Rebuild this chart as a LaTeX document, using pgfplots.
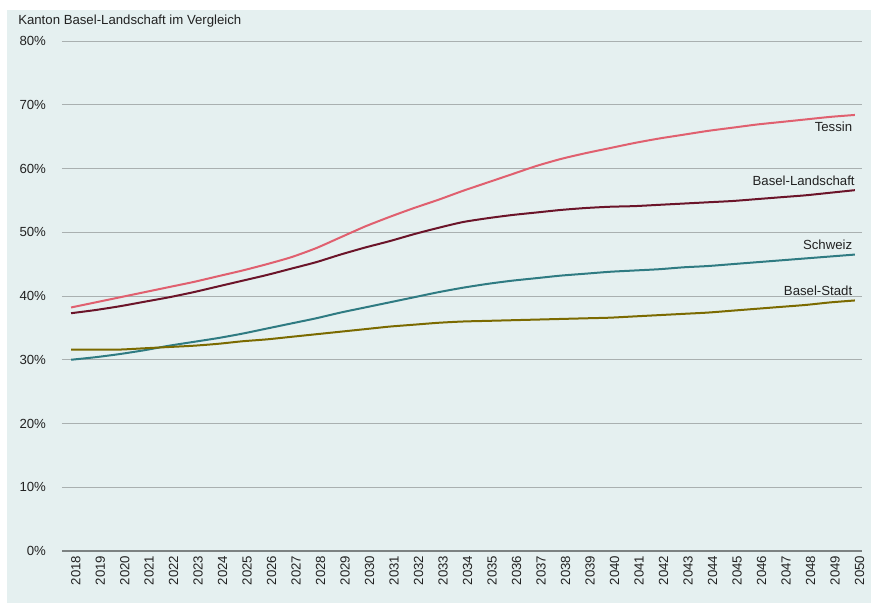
\documentclass[border=0pt]{standalone}
\usepackage{pgfplots}
\pgfplotsset{compat=1.18}
\usepackage{pgfplotstable}
\usepackage{fontspec}
\setmainfont{Liberation Sans}
\definecolor{bgpanel}{HTML}{E5F0F0}
\definecolor{gridgray}{HTML}{A9B0B0}
\definecolor{axisgray}{HTML}{7C8282}
\definecolor{txt}{HTML}{222222}
\definecolor{tessin}{HTML}{E0606F}
\definecolor{bl}{HTML}{6B1429}
\definecolor{ch}{HTML}{2F7B82}
\definecolor{bs}{HTML}{7B6A00}
\pgfplotstableread{
year tessin bl ch bs
2018 38.2 37.3 30.0 31.6
2019 39.0 37.8 30.4 31.6
2020 39.8 38.4 30.9 31.6
2021 40.6 39.1 31.5 31.8
2022 41.4 39.8 32.2 32.0
2023 42.2 40.6 32.8 32.2
2024 43.1 41.5 33.4 32.5
2025 44.0 42.4 34.1 32.9
2026 45.0 43.3 34.9 33.2
2027 46.1 44.3 35.7 33.6
2028 47.5 45.3 36.5 34.0
2029 49.2 46.5 37.4 34.4
2030 50.9 47.6 38.2 34.8
2031 52.4 48.6 39.0 35.2
2032 53.8 49.7 39.8 35.5
2033 55.1 50.7 40.6 35.8
2034 56.5 51.6 41.3 36.0
2035 57.8 52.2 41.9 36.1
2036 59.1 52.7 42.4 36.2
2037 60.4 53.1 42.8 36.3
2038 61.5 53.5 43.2 36.4
2039 62.4 53.8 43.5 36.5
2040 63.2 54.0 43.8 36.6
2041 64.0 54.1 44.0 36.8
2042 64.7 54.3 44.2 37.0
2043 65.3 54.5 44.5 37.2
2044 65.9 54.7 44.7 37.4
2045 66.4 54.9 45.0 37.7
2046 66.9 55.2 45.3 38.0
2047 67.3 55.5 45.6 38.3
2048 67.7 55.8 45.9 38.6
2049 68.1 56.2 46.2 39.0
2050 68.4 56.6 46.5 39.3
}\datatable
\begin{document}
\begin{tikzpicture}
\useasboundingbox (0,0) rectangle (657.75pt,452.25pt);
\fill[white] (0,0) rectangle (657.75pt,452.25pt);
\fill[bgpanel] (5.25pt,0) rectangle (653.25pt,444.75pt);
\node[anchor=west, text=txt, font=\fontsize{9.9}{11}\selectfont, inner sep=0pt] at (13.5pt,436.5pt) {Kanton Basel-Landschaft im Vergleich};
\begin{axis}[
  at={(46.5pt,39pt)}, anchor=south west,
  width=600pt, height=382.5pt, scale only axis,
  xmin=2017.63, xmax=2050.29, ymin=0, ymax=80,
  axis y line*=left,
  y axis line style={draw=none},
  axis x line*=bottom,
  x axis line style={-, draw=axisgray, line width=0.8pt},
  major tick length=0pt,
  xtick={2018,...,2050},
  ytick={0,10,...,80},
  ymajorgrids,
  grid style={draw=gridgray, line width=0.7pt},
  /pgf/number format/assume math mode=true,
  /pgf/number format/set thousands separator={},
  xticklabel style={rotate=90, anchor=east, yshift=-3.5pt, text=txt, font=\fontsize{9.9}{11}\selectfont},
  yticklabel={\pgfmathprintnumber{\tick}\%},
  yticklabel style={anchor=east, xshift=-8.5pt, text=txt, font=\fontsize{9.9}{11}\selectfont},
  clip=false,
  every axis plot/.append style={smooth, tension=0.4, line width=1.5pt},
]
\addplot[tessin] table[x=year, y=tessin] {\datatable};
\addplot[bl] table[x=year, y=bl] {\datatable};
\addplot[ch] table[x=year, y=ch] {\datatable};
\addplot[bs] table[x=year, y=bs] {\datatable};
\begin{scope}[every node/.style={anchor=east, text=txt, font=\fontsize{9.9}{11}\selectfont, inner sep=0pt}]
\node at (axis cs:2049.9,66.5) {Tessin};
\node at (axis cs:2050.0,58.0) {Basel-Landschaft};
\node at (axis cs:2049.9,48.0) {Schweiz};
\node at (axis cs:2049.9,40.8) {Basel-Stadt};
\end{scope}
\end{axis}
\end{tikzpicture}
\end{document}
